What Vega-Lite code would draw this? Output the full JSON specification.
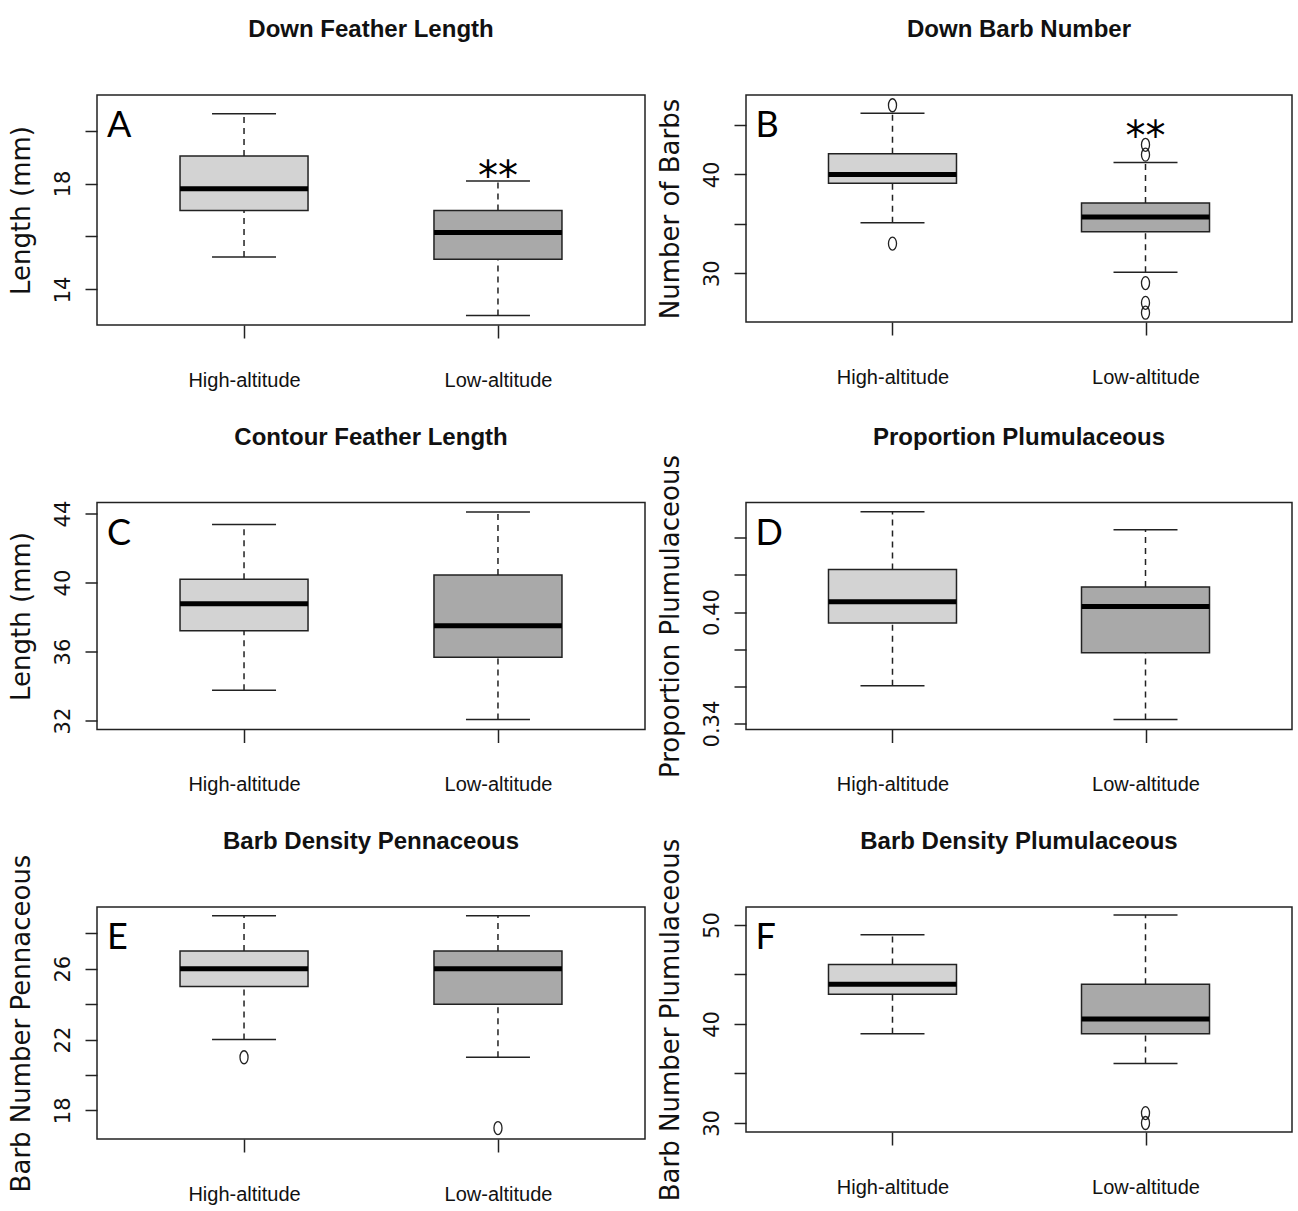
{
"$schema": "https://vega.github.io/schema/vega-lite/v6.json",
"padding": {"left": 7, "top": 17, "right": 6, "bottom": 0},
"background": "white",
"datasets": {
"stats": [
{"panel":"A","group":"High-altitude","lo":15.23,"q1":16.98,"med":17.80,"q3":19.04,"hi":20.63,"sig":""},
{"panel":"A","group":"Low-altitude","lo":13.02,"q1":15.14,"med":16.15,"q3":16.98,"hi":18.09,"sig":"**"},
{"panel":"B","group":"High-altitude","lo":35.1,"q1":39.1,"med":40.0,"q3":42.1,"hi":46.2,"sig":""},
{"panel":"B","group":"Low-altitude","lo":30.1,"q1":34.2,"med":35.7,"q3":37.1,"hi":41.2,"sig":"**"},
{"panel":"C","group":"High-altitude","lo":33.76,"q1":37.2,"med":38.77,"q3":40.19,"hi":43.36,"sig":""},
{"panel":"C","group":"Low-altitude","lo":32.06,"q1":35.67,"med":37.5,"q3":40.44,"hi":44.09,"sig":""},
{"panel":"D","group":"High-altitude","lo":0.3603,"q1":0.3941,"med":0.4055,"q3":0.4229,"hi":0.4539,"sig":""},
{"panel":"D","group":"Low-altitude","lo":0.3422,"q1":0.3781,"med":0.4029,"q3":0.4135,"hi":0.4442,"sig":""},
{"panel":"E","group":"High-altitude","lo":22,"q1":25,"med":26,"q3":27,"hi":29,"sig":""},
{"panel":"E","group":"Low-altitude","lo":21,"q1":24,"med":26,"q3":27,"hi":29,"sig":""},
{"panel":"F","group":"High-altitude","lo":39,"q1":43,"med":44,"q3":46,"hi":49,"sig":""},
{"panel":"F","group":"Low-altitude","lo":36,"q1":39,"med":40.5,"q3":44,"hi":51,"sig":""}
],
"outliers": [
{"panel":"B","group":"High-altitude","value":47},
{"panel":"B","group":"High-altitude","value":33},
{"panel":"B","group":"Low-altitude","value":43},
{"panel":"B","group":"Low-altitude","value":42},
{"panel":"B","group":"Low-altitude","value":29},
{"panel":"B","group":"Low-altitude","value":27},
{"panel":"B","group":"Low-altitude","value":26},
{"panel":"E","group":"High-altitude","value":21},
{"panel":"E","group":"Low-altitude","value":17},
{"panel":"F","group":"Low-altitude","value":31},
{"panel":"F","group":"Low-altitude","value":30}
],
"letters": [
{"panel":"A","letter":"A","title":"Down Feather Length"},
{"panel":"B","letter":"B","title":"Down Barb Number"},
{"panel":"C","letter":"C","title":"Contour Feather Length"},
{"panel":"D","letter":"D","title":"Proportion Plumulaceous"},
{"panel":"E","letter":"E","title":"Barb Density Pennaceous"},
{"panel":"F","letter":"F","title":"Barb Density Plumulaceous"}
]
},
"columns": 2,
"spacing": {"row": 177.5, "column": 101},
"bounds": "flush",
"align": "each",
"concat": [
{"width":548,"height":230,
"encoding":{"x":{"field":"group","type":"nominal","scale":{"type":"point","domain":["High-altitude","Low-altitude"],"padding":0.579},"axis":{"title":null}}},
"layer":[
{"data":{"name":"stats"},"transform":[{"filter":"datum.panel === 'A'"}],"mark":{"type":"rule","strokeDash":[6,5],"strokeWidth":1.5,"color":"#222"},"encoding":{"y":{"field":"lo","type":"quantitative","scale":{"domain":[12.66,21.34],"nice":false,"zero":false},"axis":{"title":"Length (mm)","values":[14,16,18,20],"labelExpr":"indexof([14,18], datum.value) >= 0 ? datum.label : ''"}},"y2":{"field":"q1"}}},
{"data":{"name":"stats"},"transform":[{"filter":"datum.panel === 'A'"}],"mark":{"type":"rule","strokeDash":[6,5],"strokeWidth":1.5,"color":"#222"},"encoding":{"y":{"field":"q3","type":"quantitative","scale":{"domain":[12.66,21.34],"nice":false,"zero":false}},"y2":{"field":"hi"}}},
{"data":{"name":"stats"},"transform":[{"filter":"datum.panel === 'A'"}],"mark":{"type":"tick","size":64,"thickness":1.5,"color":"#222","opacity":1},"encoding":{"y":{"field":"lo","type":"quantitative","scale":{"domain":[12.66,21.34],"nice":false,"zero":false}}}},
{"data":{"name":"stats"},"transform":[{"filter":"datum.panel === 'A'"}],"mark":{"type":"tick","size":64,"thickness":1.5,"color":"#222","opacity":1},"encoding":{"y":{"field":"hi","type":"quantitative","scale":{"domain":[12.66,21.34],"nice":false,"zero":false}}}},
{"data":{"name":"stats"},"transform":[{"filter":"datum.panel === 'A'"}],"mark":{"type":"bar","size":128,"stroke":"#222","strokeWidth":1.5},"encoding":{"y":{"field":"q1","type":"quantitative","scale":{"domain":[12.66,21.34],"nice":false,"zero":false}},"y2":{"field":"q3"},"fill":{"field":"group","type":"nominal","scale":{"domain":["High-altitude","Low-altitude"],"range":["#d3d3d3","#a9a9a9"]},"legend":null}}},
{"data":{"name":"stats"},"transform":[{"filter":"datum.panel === 'A'"}],"mark":{"type":"tick","size":128,"thickness":5,"color":"black","opacity":1},"encoding":{"y":{"field":"med","type":"quantitative","scale":{"domain":[12.66,21.34],"nice":false,"zero":false}}}},
{"data":{"name":"letters"},"transform":[{"filter":"datum.panel === 'A'"}],"mark":{"type":"text","font":"Lato","fontSize":36,"align":"left","baseline":"alphabetic","dx":-137,"dy":42,"color":"black"},"encoding":{"x":{"datum":"High-altitude","type":"nominal"},"y":{"datum":21.34,"type":"quantitative","scale":{"domain":[12.66,21.34],"nice":false,"zero":false}},"text":{"field":"letter"}}},
{"data":{"name":"letters"},"transform":[{"filter":"datum.panel === 'A'"}],"mark":{"type":"text","font":"Liberation Sans","fontSize":24,"fontWeight":"bold","align":"center","baseline":"alphabetic","dx":127,"dy":-58,"color":"#111"},"encoding":{"x":{"datum":"High-altitude","type":"nominal"},"y":{"datum":21.34,"type":"quantitative","scale":{"domain":[12.66,21.34],"nice":false,"zero":false}},"text":{"field":"title"}}},
{"data":{"name":"stats"},"transform":[{"filter":"datum.panel === 'A' && datum.sig !== ''"}],"mark":{"type":"text","font":"DejaVu Sans","fontSize":40,"align":"center","baseline":"alphabetic","dy":9,"color":"black"},"encoding":{"y":{"field":"hi","type":"quantitative","scale":{"domain":[12.66,21.34],"nice":false,"zero":false}},"text":{"field":"sig"}}}
]},
{"width":546,"height":227,
"encoding":{"x":{"field":"group","type":"nominal","scale":{"type":"point","domain":["High-altitude","Low-altitude"],"padding":0.579},"axis":{"title":null}}},
"layer":[
{"data":{"name":"stats"},"transform":[{"filter":"datum.panel === 'B'"}],"mark":{"type":"rule","strokeDash":[6,5],"strokeWidth":1.5,"color":"#222"},"encoding":{"y":{"field":"lo","type":"quantitative","scale":{"domain":[25.06,48.04],"nice":false,"zero":false},"axis":{"title":"Number of Barbs","values":[30,35,40,45],"labelExpr":"indexof([30,40], datum.value) >= 0 ? datum.label : ''"}},"y2":{"field":"q1"}}},
{"data":{"name":"stats"},"transform":[{"filter":"datum.panel === 'B'"}],"mark":{"type":"rule","strokeDash":[6,5],"strokeWidth":1.5,"color":"#222"},"encoding":{"y":{"field":"q3","type":"quantitative","scale":{"domain":[25.06,48.04],"nice":false,"zero":false}},"y2":{"field":"hi"}}},
{"data":{"name":"stats"},"transform":[{"filter":"datum.panel === 'B'"}],"mark":{"type":"tick","size":64,"thickness":1.5,"color":"#222","opacity":1},"encoding":{"y":{"field":"lo","type":"quantitative","scale":{"domain":[25.06,48.04],"nice":false,"zero":false}}}},
{"data":{"name":"stats"},"transform":[{"filter":"datum.panel === 'B'"}],"mark":{"type":"tick","size":64,"thickness":1.5,"color":"#222","opacity":1},"encoding":{"y":{"field":"hi","type":"quantitative","scale":{"domain":[25.06,48.04],"nice":false,"zero":false}}}},
{"data":{"name":"stats"},"transform":[{"filter":"datum.panel === 'B'"}],"mark":{"type":"bar","size":128,"stroke":"#222","strokeWidth":1.5},"encoding":{"y":{"field":"q1","type":"quantitative","scale":{"domain":[25.06,48.04],"nice":false,"zero":false}},"y2":{"field":"q3"},"fill":{"field":"group","type":"nominal","scale":{"domain":["High-altitude","Low-altitude"],"range":["#d3d3d3","#a9a9a9"]},"legend":null}}},
{"data":{"name":"stats"},"transform":[{"filter":"datum.panel === 'B'"}],"mark":{"type":"tick","size":128,"thickness":5,"color":"black","opacity":1},"encoding":{"y":{"field":"med","type":"quantitative","scale":{"domain":[25.06,48.04],"nice":false,"zero":false}}}},
{"data":{"name":"outliers"},"transform":[{"filter":"datum.panel === 'B'"}],"mark":{"type":"point","shape":"M0,-1A0.62,1,0,1,1,0,1A0.62,1,0,1,1,0,-1Z","size":169,"filled":false,"stroke":"#222","strokeWidth":1.3,"opacity":1},"encoding":{"y":{"field":"value","type":"quantitative","scale":{"domain":[25.06,48.04],"nice":false,"zero":false}}}},
{"data":{"name":"letters"},"transform":[{"filter":"datum.panel === 'B'"}],"mark":{"type":"text","font":"Lato","fontSize":36,"align":"left","baseline":"alphabetic","dx":-137,"dy":42,"color":"black"},"encoding":{"x":{"datum":"High-altitude","type":"nominal"},"y":{"datum":48.04,"type":"quantitative","scale":{"domain":[25.06,48.04],"nice":false,"zero":false}},"text":{"field":"letter"}}},
{"data":{"name":"letters"},"transform":[{"filter":"datum.panel === 'B'"}],"mark":{"type":"text","font":"Liberation Sans","fontSize":24,"fontWeight":"bold","align":"center","baseline":"alphabetic","dx":126.5,"dy":-58,"color":"#111"},"encoding":{"x":{"datum":"High-altitude","type":"nominal"},"y":{"datum":48.04,"type":"quantitative","scale":{"domain":[25.06,48.04],"nice":false,"zero":false}},"text":{"field":"title"}}},
{"data":{"name":"stats"},"transform":[{"filter":"datum.panel === 'B' && datum.sig !== ''"}],"mark":{"type":"text","font":"DejaVu Sans","fontSize":40,"align":"center","baseline":"alphabetic","dy":-13,"color":"black"},"encoding":{"y":{"field":"hi","type":"quantitative","scale":{"domain":[25.06,48.04],"nice":false,"zero":false}},"text":{"field":"sig"}}}
]},
{"width":548,"height":227,
"encoding":{"x":{"field":"group","type":"nominal","scale":{"type":"point","domain":["High-altitude","Low-altitude"],"padding":0.579},"axis":{"title":null}}},
"layer":[
{"data":{"name":"stats"},"transform":[{"filter":"datum.panel === 'C'"}],"mark":{"type":"rule","strokeDash":[6,5],"strokeWidth":1.5,"color":"#222"},"encoding":{"y":{"field":"lo","type":"quantitative","scale":{"domain":[31.48,44.64],"nice":false,"zero":false},"axis":{"title":"Length (mm)","values":[32,34,36,38,40,42,44],"labelExpr":"indexof([32,36,40,44], datum.value) >= 0 ? datum.label : ''"}},"y2":{"field":"q1"}}},
{"data":{"name":"stats"},"transform":[{"filter":"datum.panel === 'C'"}],"mark":{"type":"rule","strokeDash":[6,5],"strokeWidth":1.5,"color":"#222"},"encoding":{"y":{"field":"q3","type":"quantitative","scale":{"domain":[31.48,44.64],"nice":false,"zero":false}},"y2":{"field":"hi"}}},
{"data":{"name":"stats"},"transform":[{"filter":"datum.panel === 'C'"}],"mark":{"type":"tick","size":64,"thickness":1.5,"color":"#222","opacity":1},"encoding":{"y":{"field":"lo","type":"quantitative","scale":{"domain":[31.48,44.64],"nice":false,"zero":false}}}},
{"data":{"name":"stats"},"transform":[{"filter":"datum.panel === 'C'"}],"mark":{"type":"tick","size":64,"thickness":1.5,"color":"#222","opacity":1},"encoding":{"y":{"field":"hi","type":"quantitative","scale":{"domain":[31.48,44.64],"nice":false,"zero":false}}}},
{"data":{"name":"stats"},"transform":[{"filter":"datum.panel === 'C'"}],"mark":{"type":"bar","size":128,"stroke":"#222","strokeWidth":1.5},"encoding":{"y":{"field":"q1","type":"quantitative","scale":{"domain":[31.48,44.64],"nice":false,"zero":false}},"y2":{"field":"q3"},"fill":{"field":"group","type":"nominal","scale":{"domain":["High-altitude","Low-altitude"],"range":["#d3d3d3","#a9a9a9"]},"legend":null}}},
{"data":{"name":"stats"},"transform":[{"filter":"datum.panel === 'C'"}],"mark":{"type":"tick","size":128,"thickness":5,"color":"black","opacity":1},"encoding":{"y":{"field":"med","type":"quantitative","scale":{"domain":[31.48,44.64],"nice":false,"zero":false}}}},
{"data":{"name":"letters"},"transform":[{"filter":"datum.panel === 'C'"}],"mark":{"type":"text","font":"Lato","fontSize":36,"align":"left","baseline":"alphabetic","dx":-137,"dy":42,"color":"black"},"encoding":{"x":{"datum":"High-altitude","type":"nominal"},"y":{"datum":44.64,"type":"quantitative","scale":{"domain":[31.48,44.64],"nice":false,"zero":false}},"text":{"field":"letter"}}},
{"data":{"name":"letters"},"transform":[{"filter":"datum.panel === 'C'"}],"mark":{"type":"text","font":"Liberation Sans","fontSize":24,"fontWeight":"bold","align":"center","baseline":"alphabetic","dx":127,"dy":-58,"color":"#111"},"encoding":{"x":{"datum":"High-altitude","type":"nominal"},"y":{"datum":44.64,"type":"quantitative","scale":{"domain":[31.48,44.64],"nice":false,"zero":false}},"text":{"field":"title"}}}
]},
{"width":546,"height":227,
"encoding":{"x":{"field":"group","type":"nominal","scale":{"type":"point","domain":["High-altitude","Low-altitude"],"padding":0.579},"axis":{"title":null}}},
"layer":[
{"data":{"name":"stats"},"transform":[{"filter":"datum.panel === 'D'"}],"mark":{"type":"rule","strokeDash":[6,5],"strokeWidth":1.5,"color":"#222"},"encoding":{"y":{"field":"lo","type":"quantitative","scale":{"domain":[0.3368,0.4589],"nice":false,"zero":false},"axis":{"title":"Proportion Plumulaceous","format":".2f","values":[0.34,0.36,0.38,0.40,0.42,0.44],"labelExpr":"indexof([0.34,0.4], datum.value) >= 0 ? datum.label : ''"}},"y2":{"field":"q1"}}},
{"data":{"name":"stats"},"transform":[{"filter":"datum.panel === 'D'"}],"mark":{"type":"rule","strokeDash":[6,5],"strokeWidth":1.5,"color":"#222"},"encoding":{"y":{"field":"q3","type":"quantitative","scale":{"domain":[0.3368,0.4589],"nice":false,"zero":false}},"y2":{"field":"hi"}}},
{"data":{"name":"stats"},"transform":[{"filter":"datum.panel === 'D'"}],"mark":{"type":"tick","size":64,"thickness":1.5,"color":"#222","opacity":1},"encoding":{"y":{"field":"lo","type":"quantitative","scale":{"domain":[0.3368,0.4589],"nice":false,"zero":false}}}},
{"data":{"name":"stats"},"transform":[{"filter":"datum.panel === 'D'"}],"mark":{"type":"tick","size":64,"thickness":1.5,"color":"#222","opacity":1},"encoding":{"y":{"field":"hi","type":"quantitative","scale":{"domain":[0.3368,0.4589],"nice":false,"zero":false}}}},
{"data":{"name":"stats"},"transform":[{"filter":"datum.panel === 'D'"}],"mark":{"type":"bar","size":128,"stroke":"#222","strokeWidth":1.5},"encoding":{"y":{"field":"q1","type":"quantitative","scale":{"domain":[0.3368,0.4589],"nice":false,"zero":false}},"y2":{"field":"q3"},"fill":{"field":"group","type":"nominal","scale":{"domain":["High-altitude","Low-altitude"],"range":["#d3d3d3","#a9a9a9"]},"legend":null}}},
{"data":{"name":"stats"},"transform":[{"filter":"datum.panel === 'D'"}],"mark":{"type":"tick","size":128,"thickness":5,"color":"black","opacity":1},"encoding":{"y":{"field":"med","type":"quantitative","scale":{"domain":[0.3368,0.4589],"nice":false,"zero":false}}}},
{"data":{"name":"letters"},"transform":[{"filter":"datum.panel === 'D'"}],"mark":{"type":"text","font":"Lato","fontSize":36,"align":"left","baseline":"alphabetic","dx":-137,"dy":42,"color":"black"},"encoding":{"x":{"datum":"High-altitude","type":"nominal"},"y":{"datum":0.4589,"type":"quantitative","scale":{"domain":[0.3368,0.4589],"nice":false,"zero":false}},"text":{"field":"letter"}}},
{"data":{"name":"letters"},"transform":[{"filter":"datum.panel === 'D'"}],"mark":{"type":"text","font":"Liberation Sans","fontSize":24,"fontWeight":"bold","align":"center","baseline":"alphabetic","dx":126.5,"dy":-58,"color":"#111"},"encoding":{"x":{"datum":"High-altitude","type":"nominal"},"y":{"datum":0.4589,"type":"quantitative","scale":{"domain":[0.3368,0.4589],"nice":false,"zero":false}},"text":{"field":"title"}}}
]},
{"width":548,"height":232,
"encoding":{"x":{"field":"group","type":"nominal","scale":{"type":"point","domain":["High-altitude","Low-altitude"],"padding":0.579},"axis":{"title":null}}},
"layer":[
{"data":{"name":"stats"},"transform":[{"filter":"datum.panel === 'E'"}],"mark":{"type":"rule","strokeDash":[6,5],"strokeWidth":1.5,"color":"#222"},"encoding":{"y":{"field":"lo","type":"quantitative","scale":{"domain":[16.38,29.49],"nice":false,"zero":false},"axis":{"title":"Barb Number Pennaceous","values":[18,20,22,24,26,28],"labelExpr":"indexof([18,22,26], datum.value) >= 0 ? datum.label : ''"}},"y2":{"field":"q1"}}},
{"data":{"name":"stats"},"transform":[{"filter":"datum.panel === 'E'"}],"mark":{"type":"rule","strokeDash":[6,5],"strokeWidth":1.5,"color":"#222"},"encoding":{"y":{"field":"q3","type":"quantitative","scale":{"domain":[16.38,29.49],"nice":false,"zero":false}},"y2":{"field":"hi"}}},
{"data":{"name":"stats"},"transform":[{"filter":"datum.panel === 'E'"}],"mark":{"type":"tick","size":64,"thickness":1.5,"color":"#222","opacity":1},"encoding":{"y":{"field":"lo","type":"quantitative","scale":{"domain":[16.38,29.49],"nice":false,"zero":false}}}},
{"data":{"name":"stats"},"transform":[{"filter":"datum.panel === 'E'"}],"mark":{"type":"tick","size":64,"thickness":1.5,"color":"#222","opacity":1},"encoding":{"y":{"field":"hi","type":"quantitative","scale":{"domain":[16.38,29.49],"nice":false,"zero":false}}}},
{"data":{"name":"stats"},"transform":[{"filter":"datum.panel === 'E'"}],"mark":{"type":"bar","size":128,"stroke":"#222","strokeWidth":1.5},"encoding":{"y":{"field":"q1","type":"quantitative","scale":{"domain":[16.38,29.49],"nice":false,"zero":false}},"y2":{"field":"q3"},"fill":{"field":"group","type":"nominal","scale":{"domain":["High-altitude","Low-altitude"],"range":["#d3d3d3","#a9a9a9"]},"legend":null}}},
{"data":{"name":"stats"},"transform":[{"filter":"datum.panel === 'E'"}],"mark":{"type":"tick","size":128,"thickness":5,"color":"black","opacity":1},"encoding":{"y":{"field":"med","type":"quantitative","scale":{"domain":[16.38,29.49],"nice":false,"zero":false}}}},
{"data":{"name":"outliers"},"transform":[{"filter":"datum.panel === 'E'"}],"mark":{"type":"point","shape":"M0,-1A0.62,1,0,1,1,0,1A0.62,1,0,1,1,0,-1Z","size":169,"filled":false,"stroke":"#222","strokeWidth":1.3,"opacity":1},"encoding":{"y":{"field":"value","type":"quantitative","scale":{"domain":[16.38,29.49],"nice":false,"zero":false}}}},
{"data":{"name":"letters"},"transform":[{"filter":"datum.panel === 'E'"}],"mark":{"type":"text","font":"Lato","fontSize":36,"align":"left","baseline":"alphabetic","dx":-137,"dy":42,"color":"black"},"encoding":{"x":{"datum":"High-altitude","type":"nominal"},"y":{"datum":29.49,"type":"quantitative","scale":{"domain":[16.38,29.49],"nice":false,"zero":false}},"text":{"field":"letter"}}},
{"data":{"name":"letters"},"transform":[{"filter":"datum.panel === 'E'"}],"mark":{"type":"text","font":"Liberation Sans","fontSize":24,"fontWeight":"bold","align":"center","baseline":"alphabetic","dx":127,"dy":-58,"color":"#111"},"encoding":{"x":{"datum":"High-altitude","type":"nominal"},"y":{"datum":29.49,"type":"quantitative","scale":{"domain":[16.38,29.49],"nice":false,"zero":false}},"text":{"field":"title"}}}
]},
{"width":546,"height":225,
"encoding":{"x":{"field":"group","type":"nominal","scale":{"type":"point","domain":["High-altitude","Low-altitude"],"padding":0.579},"axis":{"title":null}}},
"layer":[
{"data":{"name":"stats"},"transform":[{"filter":"datum.panel === 'F'"}],"mark":{"type":"rule","strokeDash":[6,5],"strokeWidth":1.5,"color":"#222"},"encoding":{"y":{"field":"lo","type":"quantitative","scale":{"domain":[29.09,51.81],"nice":false,"zero":false},"axis":{"title":"Barb Number Plumulaceous","values":[30,35,40,45,50],"labelExpr":"indexof([30,40,50], datum.value) >= 0 ? datum.label : ''"}},"y2":{"field":"q1"}}},
{"data":{"name":"stats"},"transform":[{"filter":"datum.panel === 'F'"}],"mark":{"type":"rule","strokeDash":[6,5],"strokeWidth":1.5,"color":"#222"},"encoding":{"y":{"field":"q3","type":"quantitative","scale":{"domain":[29.09,51.81],"nice":false,"zero":false}},"y2":{"field":"hi"}}},
{"data":{"name":"stats"},"transform":[{"filter":"datum.panel === 'F'"}],"mark":{"type":"tick","size":64,"thickness":1.5,"color":"#222","opacity":1},"encoding":{"y":{"field":"lo","type":"quantitative","scale":{"domain":[29.09,51.81],"nice":false,"zero":false}}}},
{"data":{"name":"stats"},"transform":[{"filter":"datum.panel === 'F'"}],"mark":{"type":"tick","size":64,"thickness":1.5,"color":"#222","opacity":1},"encoding":{"y":{"field":"hi","type":"quantitative","scale":{"domain":[29.09,51.81],"nice":false,"zero":false}}}},
{"data":{"name":"stats"},"transform":[{"filter":"datum.panel === 'F'"}],"mark":{"type":"bar","size":128,"stroke":"#222","strokeWidth":1.5},"encoding":{"y":{"field":"q1","type":"quantitative","scale":{"domain":[29.09,51.81],"nice":false,"zero":false}},"y2":{"field":"q3"},"fill":{"field":"group","type":"nominal","scale":{"domain":["High-altitude","Low-altitude"],"range":["#d3d3d3","#a9a9a9"]},"legend":null}}},
{"data":{"name":"stats"},"transform":[{"filter":"datum.panel === 'F'"}],"mark":{"type":"tick","size":128,"thickness":5,"color":"black","opacity":1},"encoding":{"y":{"field":"med","type":"quantitative","scale":{"domain":[29.09,51.81],"nice":false,"zero":false}}}},
{"data":{"name":"outliers"},"transform":[{"filter":"datum.panel === 'F'"}],"mark":{"type":"point","shape":"M0,-1A0.62,1,0,1,1,0,1A0.62,1,0,1,1,0,-1Z","size":169,"filled":false,"stroke":"#222","strokeWidth":1.3,"opacity":1},"encoding":{"y":{"field":"value","type":"quantitative","scale":{"domain":[29.09,51.81],"nice":false,"zero":false}}}},
{"data":{"name":"letters"},"transform":[{"filter":"datum.panel === 'F'"}],"mark":{"type":"text","font":"Lato","fontSize":36,"align":"left","baseline":"alphabetic","dx":-137,"dy":42,"color":"black"},"encoding":{"x":{"datum":"High-altitude","type":"nominal"},"y":{"datum":51.81,"type":"quantitative","scale":{"domain":[29.09,51.81],"nice":false,"zero":false}},"text":{"field":"letter"}}},
{"data":{"name":"letters"},"transform":[{"filter":"datum.panel === 'F'"}],"mark":{"type":"text","font":"Liberation Sans","fontSize":24,"fontWeight":"bold","align":"center","baseline":"alphabetic","dx":126.5,"dy":-58,"color":"#111"},"encoding":{"x":{"datum":"High-altitude","type":"nominal"},"y":{"datum":51.81,"type":"quantitative","scale":{"domain":[29.09,51.81],"nice":false,"zero":false}},"text":{"field":"title"}}}
]}
],
"config":{
"view":{"stroke":"#222","strokeWidth":1.5},
"tick":{"opacity":1},
"point":{"opacity":1},
"axis":{"domain":false,"grid":false,"tickColor":"#222","tickWidth":1.5,"tickSize":12,"labelColor":"#111","titleColor":"#111","labelOverlap":false},
"axisX":{"labelFont":"Liberation Sans","labelFontSize":20,"labelPadding":32,"tickSize":13,"labelAngle":0},
"axisY":{"labelFont":"DejaVu Sans","labelFontSize":21,"labelAngle":-90,"labelAlign":"center","labelBaseline":"bottom","labelPadding":12,"titleFont":"DejaVu Sans","titleFontSize":26,"titleFontWeight":"normal","titlePadding":18}
}
}
